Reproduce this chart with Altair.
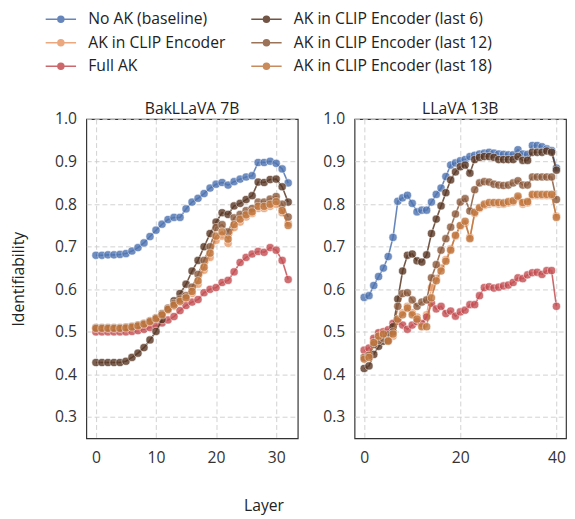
import altair as alt
import pandas as pd

# ---------------- data ----------------
series_names = [
    "No AK (baseline)",
    "AK in CLIP Encoder",
    "Full AK",
    "AK in CLIP Encoder (last 6)",
    "AK in CLIP Encoder (last 12)",
    "AK in CLIP Encoder (last 18)",
]
series_colors = ["#4c72b0", "#e89a68", "#c44e52", "#5a3825", "#8b5a3c", "#c0773f"]

panel_titles = ["BakLLaVA 7B", "LLaVA 13B"]
bak_layers = list(range(33))
llava_layers = list(range(41))

bak_baseline = [0.680, 0.680, 0.681, 0.681, 0.682, 0.684, 0.690, 0.698, 0.709, 0.724, 0.739,
                0.753, 0.764, 0.769, 0.769, 0.789, 0.805, 0.814, 0.825, 0.838, 0.847, 0.851,
                0.845, 0.853, 0.859, 0.864, 0.867, 0.898, 0.898, 0.901, 0.896, 0.883, 0.850]
bak_akclip = [0.506, 0.506, 0.506, 0.506, 0.506, 0.507, 0.509, 0.512, 0.516, 0.522, 0.529,
              0.538, 0.550, 0.560, 0.570, 0.578, 0.590, 0.612, 0.645, 0.675, 0.715, 0.725,
              0.708, 0.745, 0.758, 0.770, 0.778, 0.790, 0.790, 0.795, 0.800, 0.780, 0.755]
bak_full = [0.500, 0.500, 0.500, 0.500, 0.500, 0.500, 0.501, 0.503, 0.506, 0.510, 0.515,
            0.521, 0.528, 0.536, 0.550, 0.562, 0.570, 0.576, 0.592, 0.600, 0.604, 0.616,
            0.621, 0.641, 0.663, 0.675, 0.683, 0.689, 0.687, 0.698, 0.692, 0.668, 0.623]
bak_last6 = [0.428, 0.428, 0.428, 0.428, 0.428, 0.431, 0.440, 0.450, 0.463, 0.481, 0.501,
             0.529, 0.553, 0.573, 0.590, 0.612, 0.643, 0.668, 0.700, 0.731, 0.758, 0.780,
             0.776, 0.796, 0.802, 0.811, 0.820, 0.852, 0.851, 0.858, 0.859, 0.841, 0.805]
bak_last12 = [0.510, 0.510, 0.510, 0.510, 0.510, 0.511, 0.513, 0.516, 0.520, 0.526, 0.533,
              0.543, 0.556, 0.567, 0.577, 0.585, 0.605, 0.635, 0.668, 0.700, 0.745, 0.752,
              0.735, 0.768, 0.776, 0.785, 0.790, 0.805, 0.805, 0.812, 0.818, 0.800, 0.770]
bak_last18 = [0.508, 0.508, 0.508, 0.508, 0.508, 0.509, 0.511, 0.514, 0.518, 0.524, 0.531,
              0.540, 0.553, 0.563, 0.572, 0.580, 0.595, 0.620, 0.652, 0.685, 0.725, 0.735,
              0.718, 0.752, 0.765, 0.775, 0.782, 0.795, 0.795, 0.800, 0.806, 0.785, 0.750]

llava_baseline = [0.581, 0.585, 0.609, 0.630, 0.650, 0.677, 0.722, 0.807, 0.815, 0.821, 0.802,
                  0.782, 0.786, 0.786, 0.805, 0.823, 0.838, 0.865, 0.892, 0.897, 0.902, 0.905,
                  0.912, 0.915, 0.918, 0.920, 0.922, 0.920, 0.918, 0.917, 0.916, 0.916, 0.928,
                  0.918, 0.917, 0.938, 0.938, 0.935, 0.930, 0.926, 0.885]
llava_akclip = [0.440, 0.445, 0.480, 0.495, 0.500, 0.485, 0.490, 0.525, 0.545, 0.560, 0.545,
                0.535, 0.515, 0.540, 0.604, 0.625, 0.650, 0.670, 0.695, 0.725, 0.748, 0.755,
                0.722, 0.778, 0.790, 0.797, 0.800, 0.802, 0.800, 0.800, 0.803, 0.805, 0.815,
                0.800, 0.803, 0.820, 0.820, 0.820, 0.820, 0.820, 0.772]
llava_full = [0.457, 0.462, 0.485, 0.498, 0.500, 0.505, 0.520, 0.525, 0.516, 0.506, 0.516,
              0.524, 0.520, 0.535, 0.567, 0.554, 0.560, 0.543, 0.549, 0.537, 0.547, 0.551,
              0.564, 0.564, 0.585, 0.604, 0.606, 0.603, 0.605, 0.608, 0.610, 0.616, 0.627,
              0.625, 0.634, 0.639, 0.640, 0.635, 0.644, 0.644, 0.560]
llava_last6 = [0.414, 0.420, 0.447, 0.466, 0.478, 0.493, 0.512, 0.577, 0.643, 0.680, 0.683,
               0.667, 0.664, 0.681, 0.731, 0.765, 0.796, 0.827, 0.857, 0.876, 0.888, 0.892,
               0.873, 0.905, 0.910, 0.912, 0.912, 0.910, 0.905, 0.905, 0.905, 0.905, 0.912,
               0.903, 0.903, 0.922, 0.922, 0.922, 0.925, 0.922, 0.880]
llava_last12 = [0.440, 0.445, 0.470, 0.480, 0.485, 0.480, 0.500, 0.560, 0.590, 0.592, 0.575,
                0.560, 0.570, 0.575, 0.627, 0.658, 0.692, 0.719, 0.746, 0.777, 0.805, 0.813,
                0.784, 0.834, 0.850, 0.853, 0.852, 0.847, 0.845, 0.844, 0.845, 0.850, 0.855,
                0.845, 0.845, 0.864, 0.864, 0.864, 0.864, 0.864, 0.811]
llava_last18 = [0.436, 0.440, 0.475, 0.490, 0.495, 0.478, 0.495, 0.530, 0.540, 0.556, 0.540,
                0.530, 0.512, 0.512, 0.580, 0.620, 0.643, 0.666, 0.692, 0.727, 0.750, 0.760,
                0.719, 0.781, 0.792, 0.800, 0.804, 0.804, 0.804, 0.803, 0.806, 0.808, 0.819,
                0.804, 0.806, 0.823, 0.823, 0.823, 0.823, 0.823, 0.769]

y_ticks = [0.3, 0.4, 0.5, 0.6, 0.7, 0.8, 0.9, 1.0]
bak_x_ticks = [0, 10, 20, 30]
llava_x_ticks = [0, 20, 40]

FONT = "Open Sans"
TXT = "#222222"


def make_df(layers, arrays):
    rows = []
    for name, vals in zip(series_names, arrays):
        for l, v in zip(layers, vals):
            rows.append({"layer": l, "value": v, "series": name})
    return pd.DataFrame(rows)


bak_df = make_df(bak_layers, [bak_baseline, bak_akclip, bak_full, bak_last6, bak_last12, bak_last18])
llava_df = make_df(llava_layers, [llava_baseline, llava_akclip, llava_full, llava_last6, llava_last12, llava_last18])

legend_symbol = ("M-1.55,0L1.55,0"
                 "M0.3,0A0.3,0.3,0,1,1,-0.3,0A0.3,0.3,0,1,1,0.3,0Z"
                 "M0.18,0A0.18,0.18,0,1,1,-0.18,0A0.18,0.18,0,1,1,0.18,0Z"
                 "M0.07,0A0.07,0.07,0,1,1,-0.07,0A0.07,0.07,0,1,1,0.07,0Z")

color_scale = alt.Scale(domain=series_names, range=series_colors)
legend = alt.Legend(
    title=None, orient="none", legendX=-37, legendY=-113, columns=2,
    symbolType=legend_symbol, symbolSize=400, symbolStrokeWidth=1.6,
    symbolOpacity=0.85, labelFont=FONT, labelFontSize=16, labelColor=TXT,
    labelOffset=17, rowPadding=5, columnPadding=22, symbolOffset=0, padding=0,
)


def panel(df, title, xdomain, xticks, first):
    layers = []
    for name in series_names:
        sub = df[df["series"] == name]
        enc = dict(
            x=alt.X("layer:Q", scale=alt.Scale(domain=xdomain, nice=False, zero=False),
                    axis=alt.Axis(values=xticks, title="Layer" if first else None,
                                  **({"titleX": 181, "titleY": 69, "titleBaseline": "middle",
                                      "titleAlign": "center"} if first else {}))),
            y=alt.Y("value:Q", scale=alt.Scale(domain=[0.25, 1.0], nice=False, zero=False),
                    axis=alt.Axis(values=y_ticks, format=".1f",
                                  title="Identifiability" if first else None,
                                  **({"titleX": -69, "titleY": 163, "titleBaseline": "middle",
                                      "titleAlign": "center"} if first else {}))),
            color=alt.Color("series:N", scale=color_scale, legend=legend),
        )
        ln = alt.Chart(sub).mark_line(strokeWidth=1.6, opacity=0.85).encode(**enc)
        pt = alt.Chart(sub).mark_circle(size=70, opacity=0.8, stroke="white",
                                        strokeWidth=0.6).encode(**enc)
        layers += [ln, pt]
    return alt.layer(*layers).properties(
        width=216, height=326,
        title=alt.TitleParams(title, fontSize=16, font=FONT, fontWeight="normal",
                              color=TXT, offset=-6),
    )


left = panel(bak_df, panel_titles[0], [-1.6, 33.6], bak_x_ticks, True)
right = panel(llava_df, panel_titles[1], [-2, 42], llava_x_ticks, False)

chart = alt.hconcat(left, right, spacing=23).properties(
    padding={"left": 2, "top": -5, "right": 0, "bottom": 0}
).configure_view(
    stroke="#333333", strokeWidth=1.2
).configure_axis(
    domain=False, ticks=False, grid=True, gridColor="#cccccc", gridDash=[5, 3],
    gridWidth=0.9, labelFont=FONT, labelFontSize=16, labelColor="#333333",
    titleFont=FONT, titleFontSize=16, titleFontWeight="normal", titleColor=TXT,
    labelPadding=10,
).configure_axisX(labelPadding=12).configure_legend(
    labelLimit=300
)

chart.save("out.html", embed_options={"renderer": "svg", "actions": False})
